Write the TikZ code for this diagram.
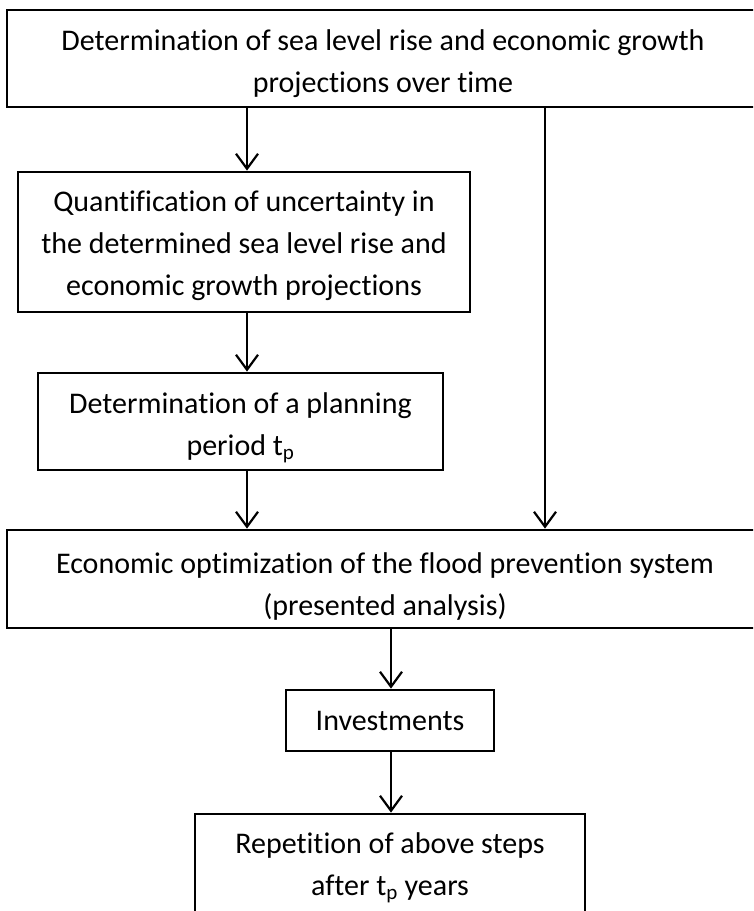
\documentclass[tikz,border=0pt]{standalone}
\usepackage{fontspec}
\setmainfont[Ligatures=NoCommon]{Carlito}
\usetikzlibrary{arrows.meta}
\begin{document}
\begin{tikzpicture}[x=1pt,y=-1pt,
  box/.style={draw=black, line width=2.8pt, inner sep=0pt, minimum width=#1},
  txt/.style={align=center, inner sep=0pt, font=\fontsize{30}{42}\selectfont},
  arr/.style={line width=2.2pt, -{Straight Barb[length=15pt,width=22pt,line width=2.2pt]}}]
\useasboundingbox (0,0) rectangle (753,911);
\clip (0,0) rectangle (753,911);
\node[box=752pt, minimum height=97pt] (b1) at (383,58.5) {};
\node[txt] (t1) at ([yshift=-5pt]b1.center) {Determination of sea level rise and economic growth\\projections over time};
\node[box=452pt, minimum height=140pt] (b2) at (244,242) {};
\node[txt] (t2) at ([yshift=-4pt]b2.center) {Quantification of uncertainty in\\the determined sea level rise and\\economic growth projections};
\node[box=405pt, minimum height=97pt] (b3) at (240.5,421.5) {};
\node[txt] (t3) at ([yshift=-6pt]b3.center) {Determination of a planning\\period t\textsubscript{p}};
\node[box=756pt, minimum height=98pt] (b5) at (385,579) {};
\node[txt] (t5) at ([yshift=-7pt]b5.center) {Economic optimization of the flood prevention system\\(presented analysis)};
\node[box=208pt, minimum height=61pt] (b4) at (390,720.5) {};
\node[txt] (t4) at (b4.center) {Investments};
\node[box=390pt, minimum height=104pt] (b6) at (390,866) {};
\node[txt] (t6) at ([yshift=-2pt]b6.center) {Repetition of above steps\\after t\textsubscript{p} years};
\coordinate (xa) at (247,0);
\coordinate (xr) at (545,0);
\coordinate (xb) at (391,0);
\draw[arr] (b1.south -| xa) -- (b2.north -| xa);
\draw[arr] (b2.south -| xa) -- (b3.north -| xa);
\draw[arr] (b3.south -| xa) -- (b5.north -| xa);
\draw[arr] (b1.south -| xr) -- (b5.north -| xr);
\draw[arr] (b5.south -| xb) -- (b4.north -| xb);
\draw[arr] (b4.south -| xb) -- (b6.north -| xb);
\end{tikzpicture}
\end{document}
